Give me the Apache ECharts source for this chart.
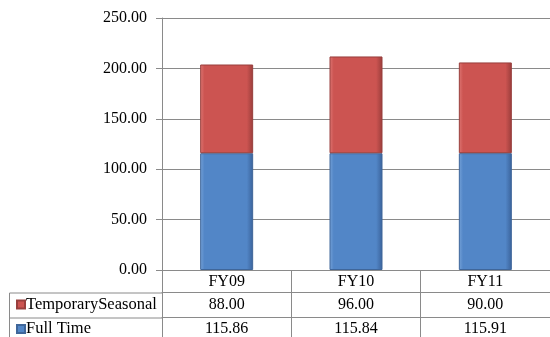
<!DOCTYPE html>
<html>
<head>
<meta charset="utf-8">
<script src="https://cdn.jsdelivr.net/npm/echarts@6/dist/echarts.min.js"></script>
<style>html,body{margin:0;padding:0;background:#fff}#c{width:550px;height:337px}</style>
</head>
<body>
<div id="c"></div>
<script>
var categories = ['FY09', 'FY10', 'FY11'];
var temporarySeasonal = [88.00, 96.00, 90.00];
var fullTime = [115.86, 115.84, 115.91];
var yTicks = { min: 0, max: 250, interval: 50 };

var FONT = 'Liberation Serif';
var GRAY = '#8a8a8a';
function grad(light, main, dark) {
  return new echarts.graphic.LinearGradient(0, 0, 1, 0, [
    { offset: 0, color: light }, { offset: 0.08, color: main },
    { offset: 0.88, color: main }, { offset: 1, color: dark }
  ]);
}
var chart = echarts.init(document.getElementById('c'), null, { renderer: 'canvas' });
var gridLeft = 162, gridTop = 18, gridW = 397, gridH = 253;
var row1 = gridTop + gridH + 22, row2 = gridTop + gridH + 47;
var legendText = { fontFamily: FONT, fontSize: 16.5, color: '#000', padding: [0, 0, 0, -4] };
chart.setOption({
  animation: false,
  textStyle: { fontFamily: FONT },
  grid: { left: gridLeft, top: gridTop, width: gridW, height: gridH },
  legend: [{
    left: 16, top: row1 + 3, padding: 0,
    itemWidth: 8, itemHeight: 8, icon: 'rect',
    data: ['TemporarySeasonal'], textStyle: legendText
  }, {
    left: 16, top: row2 + 2.5, padding: 0,
    itemWidth: 8, itemHeight: 8, icon: 'rect',
    data: ['Full Time'], textStyle: legendText
  }],
  xAxis: [{
    type: 'category', data: categories, position: 'bottom',
    axisLine: { show: true, lineStyle: { color: GRAY } },
    axisTick: { show: true, length: 70, lineStyle: { color: GRAY } },
    axisLabel: { fontFamily: FONT, fontSize: 16, color: '#000', margin: 4 }
  }, {
    type: 'category', data: temporarySeasonal.map(function (v) { return v.toFixed(2); }),
    position: 'bottom', offset: 22,
    axisLine: { show: true, lineStyle: { color: GRAY } },
    axisTick: { show: false },
    axisLabel: { fontFamily: FONT, fontSize: 16, color: '#000', margin: 5 }
  }, {
    type: 'category', data: fullTime.map(function (v) { return v.toFixed(2); }),
    position: 'bottom', offset: 47,
    axisLine: { show: true, lineStyle: { color: GRAY } },
    axisTick: { show: false },
    axisLabel: { fontFamily: FONT, fontSize: 16, color: '#000', margin: 4 }
  }],
  yAxis: {
    type: 'value', min: yTicks.min, max: yTicks.max, interval: yTicks.interval,
    axisLine: { show: true, lineStyle: { color: GRAY } },
    axisTick: { show: true, length: 6, lineStyle: { color: GRAY } },
    splitLine: { show: true, lineStyle: { color: GRAY } },
    axisLabel: { fontFamily: FONT, fontSize: 16, color: '#000', margin: 15,
      formatter: function (v) { return v.toFixed(2); } }
  },
  series: [{
    name: 'Full Time', type: 'bar', stack: 'a', data: fullTime, barWidth: 53,
    itemStyle: { color: grad('#76a2d8', '#5286c7', '#3a629a'), borderColor: '#3f669a', borderWidth: 1 }
  }, {
    name: 'TemporarySeasonal', type: 'bar', stack: 'a', data: temporarySeasonal, barWidth: 53,
    itemStyle: { color: grad('#de7774', '#cc5451', '#993d3b'), borderColor: '#983f3d', borderWidth: 1 }
  }],
  graphic: [
    { type: 'line', shape: { x1: 9.5, y1: row1, x2: gridLeft, y2: row1 }, style: { stroke: GRAY, lineWidth: 1 } },
    { type: 'line', shape: { x1: 9.5, y1: row2, x2: gridLeft, y2: row2 }, style: { stroke: GRAY, lineWidth: 1 } },
    { type: 'line', shape: { x1: 9.5, y1: row1, x2: 9.5, y2: 337 }, style: { stroke: GRAY, lineWidth: 1 } }
  ]
});
</script>
</body>
</html>
